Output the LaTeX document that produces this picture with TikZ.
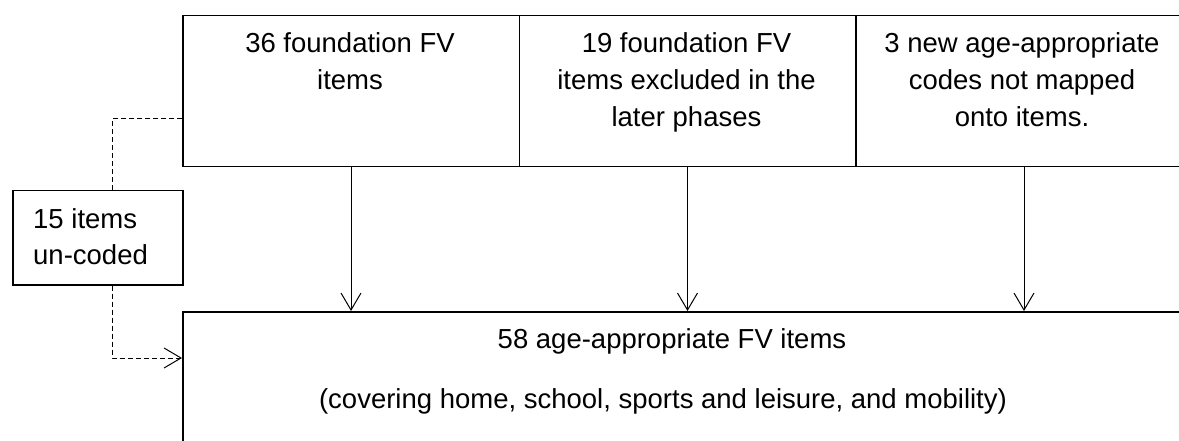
\documentclass[tikz,border=0pt]{standalone}
\usepackage{fontspec}
\setmainfont{Liberation Sans}
\usetikzlibrary{arrows.meta,calc}
\begin{document}
\begin{tikzpicture}[x=1pt,y=-1pt,
  box/.style={draw, line width=1.5pt, minimum width=336.5pt, minimum height=151pt, inner sep=0pt, anchor=north west},
  txt/.style={font=\fontsize{27.5}{37}\selectfont, align=center, inner sep=0pt},
  arr/.style={-{Straight Barb[length=17pt,width=20pt]}, line width=1pt},
  dsh/.style={line width=1pt, dash pattern=on 5pt off 3pt}]
\clip (0,0) rectangle (1179,441);
% top boxes
\node[box] (b1) at (182,15) {};
\node[box] (b2) at (518.5,15) {};
\node[box] (b3) at (855,15) {};
\node[txt, anchor=north] (t1) at (350,32) {36 foundation FV\\items};
\node[txt, anchor=north] (t2) at (686.5,32) {19 foundation FV\\items excluded in the\\later phases};
\node[txt, anchor=north] (t3) at (1022,32) {3 new age-appropriate\\codes not mapped\\onto items.};
% bottom box
\node[draw, line width=1.5pt, inner sep=0pt, anchor=north west, minimum width=1100pt, minimum height=200pt] (bot) at (182,311) {};
\node[txt, anchor=base] (bt1) at (672,348) {58 age-appropriate FV items};
\node[txt, anchor=base] (bt2) at (663,408) {(covering home, school, sports and leisure, and mobility)};
% side box
\node[draw, line width=1.5pt, inner sep=0pt, anchor=north west, minimum width=170pt, minimum height=94pt] (s) at (12,190) {};
\node[txt, font=\fontsize{27.5}{36}\selectfont, align=left, anchor=north west] (st) at (33,208) {15 items\\un-coded};
% arrows
\draw[arr] (b1.south) -- (b1.south |- bot.north);
\draw[arr] (b2.south) -- (b2.south |- bot.north);
\draw[arr] (b3.south) -- (b3.south |- bot.north);
% dashed connectors
\coordinate (c1) at (112,119);
\coordinate (c2) at (112,358);
\draw[dsh] (s.north -| c1) -- (c1) -- (c1 -| b1.west);
\draw[dsh, arr] (s.south -| c2) -- (c2) -- (c2 -| bot.west);
\end{tikzpicture}
\end{document}
